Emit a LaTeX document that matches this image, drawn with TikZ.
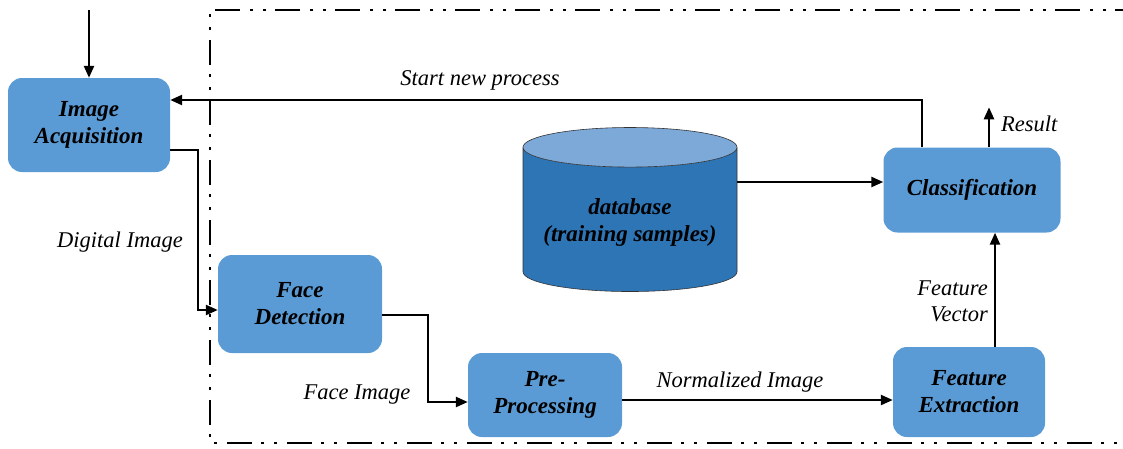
\documentclass[tikz,border=0pt]{standalone}
\usepackage{fontspec}
\setmainfont{Liberation Serif}
\usetikzlibrary{arrows.meta,shapes.geometric}

\definecolor{stageblue}{HTML}{5B9BD5}
\definecolor{dbbody}{HTML}{2E75B6}
\definecolor{dbtop}{HTML}{7DA9D9}

\tikzset{
  stage/.style={fill=stageblue, rounded corners=14pt, align=center,
                font=\fontsize{23}{27}\selectfont\bfseries\itshape},
  flow/.style={line width=2.4pt, -{Triangle[length=12pt,width=10pt]}},
  lbl/.style={font=\fontsize{22.5}{26}\selectfont\itshape, inner sep=0pt},
  frame/.style={line width=2.8pt, dash pattern=on 25pt off 9pt on 3pt off 10pt on 3pt off 10pt}
}

\begin{document}
\begin{tikzpicture}[x=1pt,y=-1pt]
\useasboundingbox (0,0) rectangle (1123,448);
\clip (0,0) rectangle (1123,448);

% dash-dot-dot frame round the recognition part
\draw[frame] (1140,10) -- (210,10) -- (210,443) -- (1140,443);

% stages
\node[stage, minimum width=162pt, minimum height=94pt] (acq) at (89,125) {Image\\Acquisition};
\node[stage, minimum width=164pt, minimum height=98pt] (fd) at (300,304) {Face\\Detection};
\node[stage, minimum width=154pt, minimum height=84pt] (pre) at (545,395) {Pre-\\Processing};
\node[stage, minimum width=152pt, minimum height=90pt] (fe) at (969,392) {Feature\\Extraction};
\node[stage, minimum width=177pt, minimum height=85pt] (cls) at (972,190) {Classification};

% database
\node[cylinder, shape border rotate=90, draw=black!80, line width=0.6pt,
      cylinder uses custom fill, cylinder body fill=dbbody, cylinder end fill=dbtop,
      minimum width=214pt, minimum height=164pt, aspect=0.22, align=center,
      font=\fontsize{23}{27}\selectfont\bfseries\itshape] (db) at (630,222)
  {database\\(training samples)};

\coordinate (in) at (89,10);
\coordinate (out) at ([xshift=17pt]cls.north) ;

% connectors
\draw[flow] (in) -- (acq.north);
\draw[flow] ([yshift=-25pt]acq.east) -- ++(28,0) |- ([yshift=-6pt]fd.west);
\draw[flow] ([yshift=-11pt]fd.east) -- ++(46,0) |- ([yshift=-7pt]pre.west);
\draw[flow] ([yshift=-5pt]pre.east) -- ([yshift=-5pt]pre.east -| fe.west);
\draw[flow] ([xshift=26pt]fe.north) -- ([xshift=26pt]fe.north |- cls.south);
\draw[flow] ([yshift=8pt]cls.west -| db.east) -- ([yshift=8pt]cls.west);
\draw[flow] ([xshift=-50pt]cls.north) |- ([yshift=25pt]acq.east);
\draw[flow] (out) -- ++(0,-40);

% labels
\node[lbl] (startlbl) at (480,80) {Start new process};
\node[lbl] (diglbl) at (120,242) {Digital Image};
\node[lbl] (facelbl) at (357,395) {Face Image};
\node[lbl] (normlbl) at (740,382) {Normalized Image};
\node[lbl, align=right, anchor=east] (veclbl) at (988,301) {Feature\\Vector};
\node[lbl, anchor=west] (reslbl) at (1001,124) {Result};
\end{tikzpicture}
\end{document}
